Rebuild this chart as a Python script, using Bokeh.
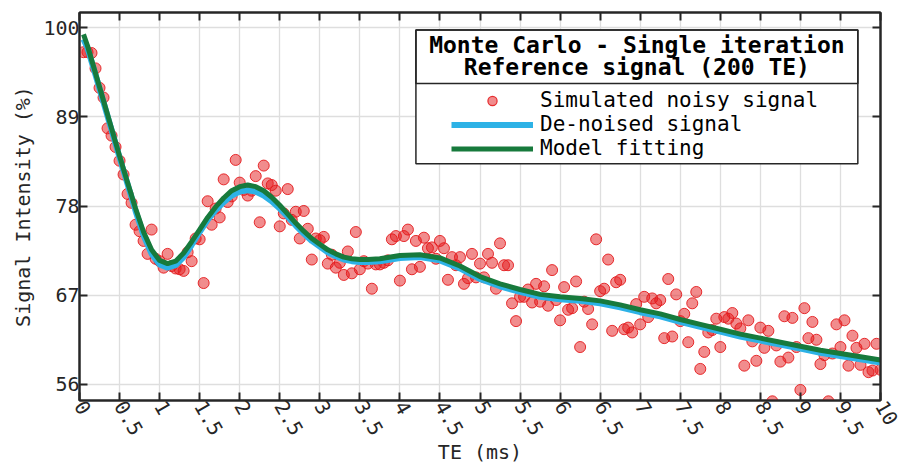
import math
from bokeh.plotting import figure
from bokeh.models import (Range1d, FixedTicker, LinearAxis, Legend, LegendItem,
                          BoxAnnotation, Label, ColumnDataSource)
from bokeh.embed import file_html
from bokeh.resources import INLINE

# ---------------- data ----------------
te_ms = [
    0.05, 0.10, 0.15, 0.20, 0.25, 0.30, 0.35, 0.40, 0.45, 0.50,
    0.55, 0.60, 0.65, 0.70, 0.75, 0.80, 0.85, 0.90, 0.95, 1.00,
    1.05, 1.10, 1.15, 1.20, 1.25, 1.30, 1.35, 1.40, 1.45, 1.50,
    1.55, 1.60, 1.65, 1.70, 1.75, 1.80, 1.85, 1.90, 1.95, 2.00,
    2.05, 2.10, 2.15, 2.20, 2.25, 2.30, 2.35, 2.40, 2.45, 2.50,
    2.55, 2.60, 2.65, 2.70, 2.75, 2.80, 2.85, 2.90, 2.95, 3.00,
    3.05, 3.10, 3.15, 3.20, 3.25, 3.30, 3.35, 3.40, 3.45, 3.50,
    3.55, 3.60, 3.65, 3.70, 3.75, 3.80, 3.85, 3.90, 3.95, 4.00,
    4.05, 4.10, 4.15, 4.20, 4.25, 4.30, 4.35, 4.40, 4.45, 4.50,
    4.55, 4.60, 4.65, 4.70, 4.75, 4.80, 4.85, 4.90, 4.95, 5.00,
    5.05, 5.10, 5.15, 5.20, 5.25, 5.30, 5.35, 5.40, 5.45, 5.50,
    5.55, 5.60, 5.65, 5.70, 5.75, 5.80, 5.85, 5.90, 5.95, 6.00,
    6.05, 6.10, 6.15, 6.20, 6.25, 6.30, 6.35, 6.40, 6.45, 6.50,
    6.55, 6.60, 6.65, 6.70, 6.75, 6.80, 6.85, 6.90, 6.95, 7.00,
    7.05, 7.10, 7.15, 7.20, 7.25, 7.30, 7.35, 7.40, 7.45, 7.50,
    7.55, 7.60, 7.65, 7.70, 7.75, 7.80, 7.85, 7.90, 7.95, 8.00,
    8.05, 8.10, 8.15, 8.20, 8.25, 8.30, 8.35, 8.40, 8.45, 8.50,
    8.55, 8.60, 8.65, 8.70, 8.75, 8.80, 8.85, 8.90, 8.95, 9.00,
    9.05, 9.10, 9.15, 9.20, 9.25, 9.30, 9.35, 9.40, 9.45, 9.50,
    9.55, 9.60, 9.65, 9.70, 9.75, 9.80, 9.85, 9.90, 9.95, 10.00,
]

noisy_signal = [
    97.0, 97.0, 96.9, 95.0, 92.6, 91.4, 87.6, 86.7, 85.3, 83.6,
    81.9, 79.5, 78.4, 75.7, 74.9, 73.7, 72.1, 75.1, 71.5, 71.2,
    70.4, 72.1, 70.6, 70.3, 70.2, 70.0, 72.3, 71.2, 74.0, 73.9,
    68.5, 78.6, 75.7, 77.7, 76.6, 81.3, 78.5, 79.2, 83.7, 80.9,
    80.0, 79.3, 79.9, 81.7, 76.0, 83.0, 80.8, 80.6, 79.9, 75.5,
    77.1, 80.1, 76.3, 77.3, 74.0, 77.4, 75.2, 71.4, 74.0, 73.8,
    74.2, 70.9, 72.0, 70.4, 71.0, 69.5, 72.4, 69.7, 74.8, 70.2,
    71.2, 70.9, 67.8, 70.8, 70.8, 71.0, 71.3, 73.9, 74.3, 68.8,
    74.3, 75.1, 70.2, 73.7, 70.5, 74.1, 72.8, 72.9, 71.5, 73.7,
    72.8, 68.9, 71.7, 70.7, 71.7, 68.4, 69.1, 72.1, 69.2, 70.9,
    69.2, 72.1, 71.0, 67.8, 73.4, 70.7, 70.7, 66.0, 63.8, 66.8,
    66.8, 67.7, 66.1, 68.4, 66.2, 68.1, 65.7, 70.1, 66.4, 63.9,
    68.0, 65.2, 65.4, 68.7, 60.6, 66.2, 65.3, 63.4, 73.9, 67.5,
    67.8, 71.4, 62.6, 68.6, 68.9, 62.8, 63.0, 62.4, 65.9, 63.4,
    66.8, 64.3, 66.6, 66.0, 66.4, 61.7, 69.0, 61.9, 67.1, 63.8,
    64.7, 61.2, 66.0, 67.4, 57.9, 60.0, 62.4, 62.7, 64.1, 60.6,
    64.3, 64.1, 64.8, 63.5, 62.9, 58.3, 63.9, 61.3, 58.9, 63.0,
    60.5, 62.6, 53.9, 60.8, 58.8, 64.4, 59.3, 64.2, 60.6, 55.3,
    65.4, 61.7, 63.7, 61.5, 58.5, 59.6, 53.9, 59.8, 63.4, 60.6,
    63.9, 58.3, 62.0, 60.5, 58.4, 61.0, 57.5, 57.7, 61.0, 57.8,
]

curve_te = [
    0.05, 0.1, 0.2, 0.3, 0.4, 0.5, 0.6, 0.7, 0.8, 0.9, 1.0, 1.1, 1.2,
    1.3, 1.4, 1.5, 1.6, 1.7, 1.8, 1.9, 2.0, 2.1, 2.2, 2.3, 2.4, 2.5,
    2.6, 2.7, 2.8, 2.9, 3.0, 3.1, 3.2, 3.3, 3.4, 3.5, 3.6, 3.75, 4.0,
    4.25, 4.5, 4.75, 5.0, 5.25, 5.5, 5.75, 6.0, 6.25, 6.5, 6.75, 7.0,
    7.25, 7.5, 7.75, 8.0, 8.25, 8.5, 8.75, 9.0, 9.25, 9.5, 9.75, 10.0,
]

denoised_signal = [
    98.6, 97.5, 94.2, 90.8, 87.4, 84.0, 80.7, 77.4, 74.4, 72.1, 70.8, 70.4, 70.7,
    71.7, 73.2, 74.8, 76.3, 77.5, 78.5, 79.3, 79.8, 79.95, 79.8, 79.3, 78.6, 77.7,
    76.7, 75.6, 74.6, 73.7, 73.0, 72.3, 71.8, 71.4, 71.2, 71.1, 71.1, 71.2, 71.6,
    71.7, 71.3, 70.3, 69.0, 68.1, 67.4, 66.8, 66.5, 66.3, 66.0, 65.5, 64.9,
    64.4, 63.7, 63.1, 62.5, 61.9, 61.4, 60.9, 60.4, 59.9, 59.5, 59.1, 58.7,
]

model_fit = [
    99.2, 97.8, 94.4, 91.0, 87.6, 84.2, 80.9, 77.7, 74.8, 72.6, 71.3, 70.9, 71.2,
    72.2, 73.6, 75.1, 76.6, 77.9, 79.0, 79.9, 80.4, 80.6, 80.4, 79.9, 79.1, 78.1,
    77.0, 75.9, 74.9, 74.0, 73.3, 72.6, 72.1, 71.7, 71.5, 71.4, 71.4, 71.5, 71.9,
    72.0, 71.6, 70.6, 69.3, 68.4, 67.7, 67.1, 66.8, 66.6, 66.3, 65.8, 65.2,
    64.7, 64.0, 63.4, 62.8, 62.2, 61.7, 61.2, 60.7, 60.2, 59.8, 59.4, 59.0,
]

x_ticks = [0, 0.5, 1, 1.5, 2, 2.5, 3, 3.5, 4, 4.5, 5, 5.5, 6, 6.5, 7, 7.5, 8,
           8.5, 9, 9.5, 10]
x_tick_labels = ["0", "0.5", "1", "1.5", "2", "2.5", "3", "3.5", "4", "4.5", "5",
                 "5.5", "6", "6.5", "7", "7.5", "8", "8.5", "9", "9.5", "10"]
y_ticks = [56, 67, 78, 89, 100]

legend_title = ["Monte Carlo - Single iteration", "Reference signal (200 TE)"]
legend_labels = ["Simulated noisy signal", "De-noised signal", "Model fitting"]

# ---------------- styling ----------------
FONT = "DejaVu Sans Mono"
AX = "#262626"
RED = "#E41A1C"
BLUE = "#2DB2E6"
GREEN = "#177A3C"

p = figure(width=905, height=466,
           x_range=Range1d(0, 10), y_range=Range1d(54, 101.9),
           output_backend="svg", toolbar_location=None,
           min_border_left=79, min_border_right=25,
           min_border_top=12, min_border_bottom=60)
p.background_fill_color = "white"
p.border_fill_color = "white"
p.outline_line_color = AX
p.outline_line_width = 2

x_overrides = {t: l for t, l in zip(x_ticks, x_tick_labels)}

for ax in p.xaxis:
    ax.ticker = FixedTicker(ticks=x_ticks)
    ax.major_label_overrides = x_overrides
    ax.major_label_orientation = -math.pi / 3
    ax.axis_label = "TE (ms)"
for ax in p.yaxis:
    ax.ticker = FixedTicker(ticks=y_ticks)
    ax.axis_label = "Signal Intensity (%)"

for ax in list(p.xaxis) + list(p.yaxis):
    ax.major_label_text_font = FONT
    ax.major_label_text_font_size = "20px"
    ax.major_label_text_color = AX
    ax.axis_label_text_font = FONT
    ax.axis_label_text_font_size = "20px"
    ax.axis_label_text_font_style = "normal"
    ax.axis_label_text_color = AX
    ax.axis_line_color = AX
    ax.axis_line_width = 2
    ax.major_tick_line_color = AX
    ax.major_tick_line_width = 2
    ax.major_tick_in = 8
    ax.major_tick_out = 0
    ax.minor_tick_line_color = None

for ax in p.xaxis:
    ax.major_label_standoff = 2
    ax.axis_label_standoff = -4
for ax in p.yaxis:
    ax.major_label_standoff = 0
    ax.axis_label_standoff = 5

top_ax = LinearAxis(ticker=FixedTicker(ticks=x_ticks))
right_ax = LinearAxis(ticker=FixedTicker(ticks=y_ticks))
for ax in (top_ax, right_ax):
    ax.major_label_text_font_size = "1px"
    ax.major_label_text_color = None
    ax.major_label_standoff = 0
    ax.axis_line_color = AX
    ax.axis_line_width = 2
    ax.major_tick_line_color = AX
    ax.major_tick_line_width = 2
    ax.major_tick_in = 8
    ax.major_tick_out = 0
    ax.minor_tick_line_color = None
p.add_layout(top_ax, "above")
p.add_layout(right_ax, "right")

p.xgrid.ticker = FixedTicker(ticks=x_ticks)
p.ygrid.ticker = FixedTicker(ticks=y_ticks)
for g in (p.xgrid, p.ygrid):
    g.grid_line_color = "#dedede"
    g.grid_line_width = 1.3

pts = ColumnDataSource(dict(x=te_ms, y=noisy_signal))
curves = ColumnDataSource(dict(x=curve_te, den=denoised_signal, fit=model_fit))

r_pts = p.scatter("x", "y", source=pts, size=11, marker="circle",
                  fill_color=RED, fill_alpha=0.5, line_color=RED,
                  line_alpha=0.9, line_width=1)
r_den = p.line("x", "den", source=curves, line_color=BLUE, line_width=6)
r_fit = p.line("x", "fit", source=curves, line_color=GREEN, line_width=5)

# hidden copy of the noisy-signal renderer, used only for a larger legend marker
r_pts_legend = p.scatter("x", "y", source=pts, size=16, marker="circle",
                         fill_color=RED, fill_alpha=0.5, line_color=RED,
                         line_alpha=0.9, line_width=1.2, visible=False)

# ---------------- legend box ----------------
box_left, box_right = 4.20, 9.717
box_bottom, box_top, box_sep = 83.23, 99.74, 93.13

p.add_layout(BoxAnnotation(left=box_left, right=box_right, bottom=box_bottom, top=box_top,
                           fill_color="white", fill_alpha=1.0,
                           line_color=AX, line_width=1.5, line_alpha=1.0))
p.add_layout(BoxAnnotation(left=box_left, right=box_right, bottom=box_sep, top=box_top,
                           fill_alpha=0.0, line_color=AX, line_width=1.5, line_alpha=1.0))

title_x = (box_left + box_right) / 2
for txt, ty in zip(legend_title, (97.92, 95.23)):
    p.add_layout(Label(x=title_x, y=ty, text=txt, text_align="center",
                       text_baseline="middle", text_font=FONT,
                       text_font_size="23px", text_font_style="bold",
                       text_color="black"))

legend = Legend(items=[LegendItem(label=legend_labels[0], renderers=[r_pts_legend], index=0),
                       LegendItem(label=legend_labels[1], renderers=[r_den]),
                       LegendItem(label=legend_labels[2], renderers=[r_fit])],
                location=(372, 240))
legend.glyph_width = 82
legend.glyph_height = 23
legend.label_height = 23
legend.label_standoff = 7
legend.spacing = 0
legend.padding = 0
legend.margin = 0
legend.border_line_color = None
legend.background_fill_alpha = 0.0
legend.label_text_font = FONT
legend.label_text_font_size = "21px"
legend.label_text_color = "black"
legend.label_text_baseline = "middle"
p.add_layout(legend, "center")

open("out.html", "w").write(file_html(p, INLINE))
